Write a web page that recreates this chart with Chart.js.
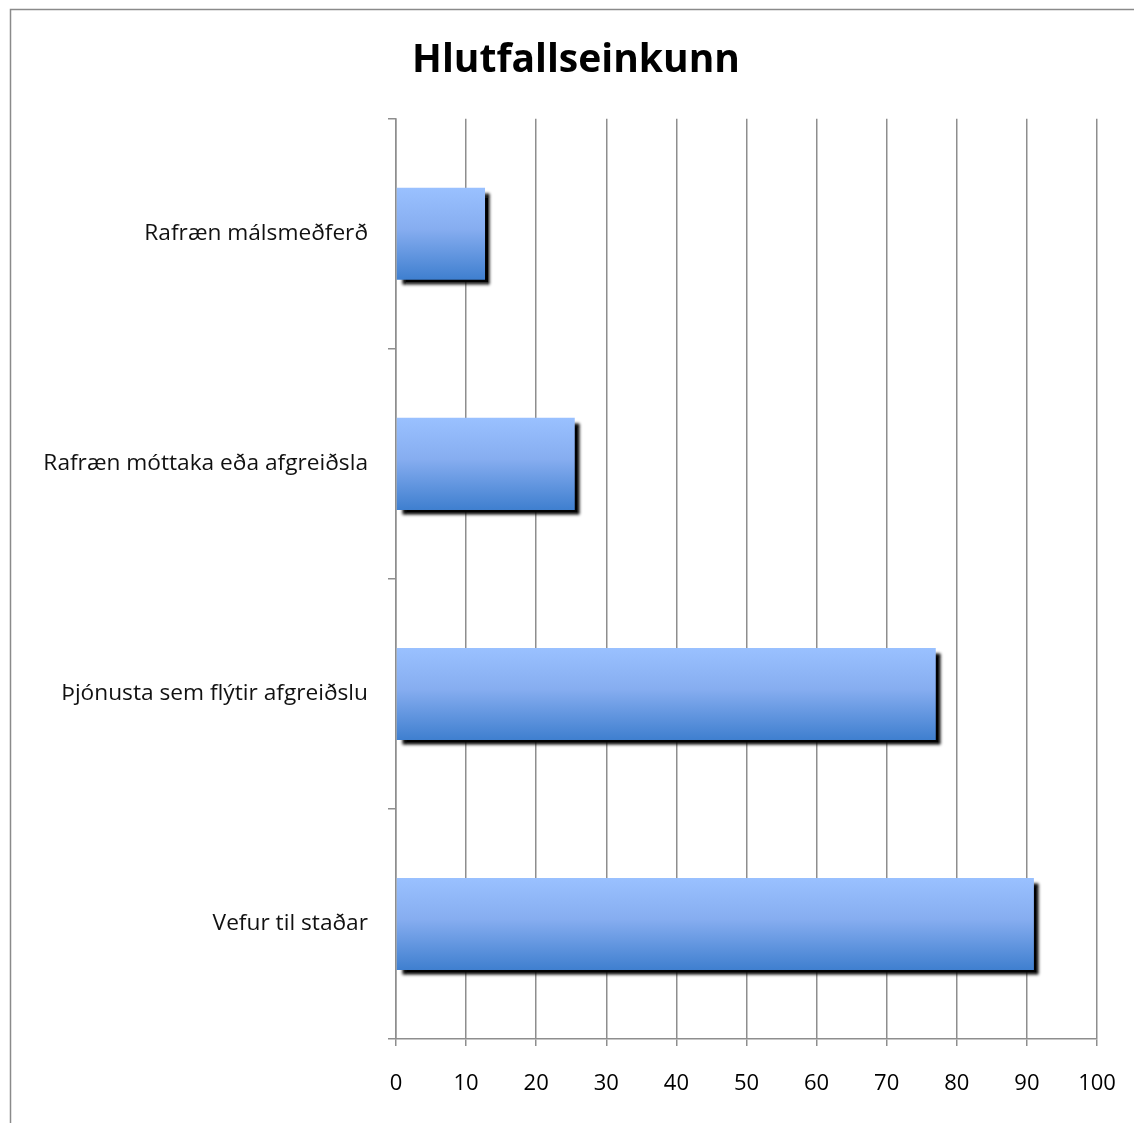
<!DOCTYPE html>
<html>
<head>
<meta charset="utf-8">
<script src="https://cdn.jsdelivr.net/npm/chart.js@4/dist/chart.umd.min.js"></script>
<style>
  html, body { margin: 0; padding: 0; background: #fff; }
  #wrap { width: 1134px; height: 1123px; }
</style>
</head>
<body>
<div id="wrap"><canvas id="chart"></canvas></div>
<script>
const categories = [
  'Rafræn málsmeðferð',
  'Rafræn móttaka eða afgreiðsla',
  'Þjónusta sem flýtir afgreiðslu',
  'Vefur til staðar'
];
const values = [12.7, 25.5, 77.0, 91.0];
const xTicks = [0, 10, 20, 30, 40, 50, 60, 70, 80, 90, 100];

const gridGray = '#8e8e8e';
const font = "'Open Sans', Lato, sans-serif";

// vertical gradient per bar, from the category position on the y scale
function barGradient(ctx) {
  const chart = ctx.chart;
  const y = chart.scales.y;
  if (!y || !chart.chartArea) return '#6a9ee8';
  const c = y.getPixelForValue(ctx.dataIndex);
  const half = (chart.chartArea.height / categories.length) * 0.4 / 2;
  const g = chart.ctx.createLinearGradient(0, c - half, 0, c + half);
  g.addColorStop(0, '#9ac1ff');
  g.addColorStop(0.45, '#86adf0');
  g.addColorStop(1, '#3f7fcf');
  return g;
}

const shadowPlugin = {
  id: 'barShadow',
  beforeDatasetsDraw(chart) {
    const ctx = chart.ctx;
    ctx.save();
    ctx.shadowColor = 'rgba(0,0,0,1)';
    ctx.shadowOffsetX = 5;
    ctx.shadowOffsetY = 5;
    ctx.shadowBlur = 3;
  },
  afterDatasetsDraw(chart) {
    chart.ctx.restore();
  }
};

const framePlugin = {
  id: 'frame',
  beforeDraw(chart) {
    const ctx = chart.ctx;
    ctx.save();
    ctx.fillStyle = '#fff';
    ctx.fillRect(0, 0, chart.width, chart.height);
    ctx.strokeStyle = '#8a8a8a';
    ctx.lineWidth = 1.5;
    ctx.strokeRect(10.5, 9.5, chart.width + 20, chart.height + 20);
    ctx.restore();
  }
};

new Chart(document.getElementById('chart'), {
  type: 'bar',
  data: {
    labels: categories,
    datasets: [{
      data: values,
      backgroundColor: barGradient,
      borderWidth: 0,
      categoryPercentage: 1,
      barPercentage: 0.4
    }]
  },
  options: {
    indexAxis: 'y',
    responsive: true,
    maintainAspectRatio: false,
    animation: false,
    layout: { padding: { left: 30, right: 12, top: 0, bottom: 0 } },
    plugins: {
      legend: { display: false },
      tooltip: { enabled: false },
      title: {
        display: true,
        text: 'Hlutfallseinkunn',
        color: '#000',
        font: { family: font, size: 39, weight: 'bold', lineHeight: 1.2 },
        padding: { top: 37, bottom: 35 }
      }
    },
    scales: {
      x: {
        min: 0,
        max: 100,
        afterBuildTicks(scale) {
          scale.ticks = xTicks.map(v => ({ value: v }));
        },
        afterFit(scale) {
          scale.height = 84;
          scale.paddingLeft = 0;
          scale.paddingRight = 37;
        },
        grid: {
          color: gridGray,
          lineWidth: 1.5,
          drawTicks: true,
          tickLength: 7,
          tickColor: gridGray
        },
        border: { display: true, color: gridGray, width: 1.5 },
        ticks: {
          color: '#000',
          padding: 25,
          font: { family: font, size: 22 }
        }
      },
      y: {
        afterFit(scale) { scale.width = 366; },
        grid: {
          offset: true,
          drawOnChartArea: false,
          drawTicks: true,
          tickLength: 8,
          color: gridGray,
          lineWidth: 1.5
        },
        border: { display: true, color: gridGray, width: 1.5 },
        ticks: {
          color: '#111',
          padding: 20,
          font: { family: font, size: 22.7 }
        }
      }
    }
  },
  plugins: [framePlugin, shadowPlugin]
});
</script>
</body>
</html>
